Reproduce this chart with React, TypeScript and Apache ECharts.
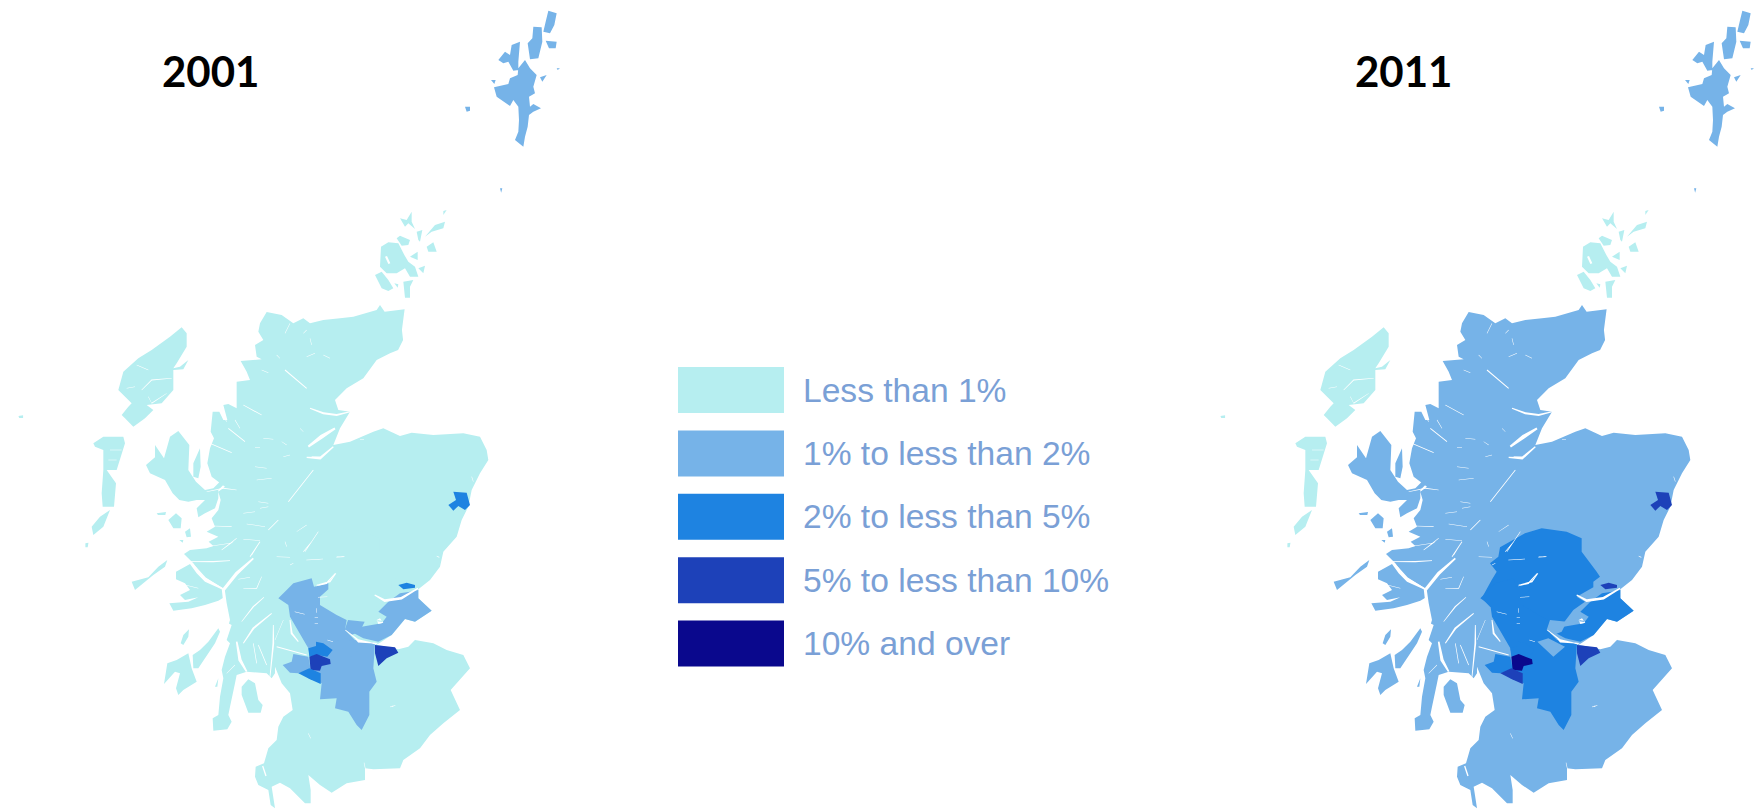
import React, { useEffect, useRef } from "react";
import * as echarts from "echarts";

// ---------- data ----------
const bandLabels = ["Less than 1%", "1% to less than 2%", "2% to less than 5%", "5% to less than 10%", "10% and over"];
const bandMins = [0, 1, 2, 5, 10];
const bandMaxs = [1, 2, 5, 10, 100];
const bandColors = ["#b6eef0", "#76b3e8", "#1e83e1", "#1d41b9", "#0a088d"];
const years = ["2001", "2011"];
const regionNames = ["Mainland (rest)", "Western Isles", "Orkney Islands", "Shetland Islands", "Perth and Kinross", "Central Belt", "Fife", "Falkirk and Clackmannanshire", "Renfrewshire", "East Dunbartonshire", "Glasgow City", "East Renfrewshire", "City of Edinburgh", "Dundee City", "Aberdeen City"];
const values2001 = [0.5, 0.4, 0.4, 1.2, 0.8, 1.4, 1.2, 1.2, 1.5, 2.5, 5.5, 2.6, 5.2, 2.6, 3.0];
const values2011 = [1.4, 0.6, 0.8, 1.3, 2.2, 2.6, 2.4, 1.8, 2.5, 2.8, 12.0, 5.4, 8.0, 5.5, 8.2];

// ---------- geometry: traced outlines, each in its own crop frame ----------
type P = [number, number];
const frame = (ox: number, oy: number, sx = 3, sy = 3) => (r: P[]): P[] => r.map(([x, y]) => [ox + x / sx, oy + y / sy]);
const Z = frame(0, 400, 2.6, 3);
const A = frame(90, 300);
const B = frame(90, 540);
const C = frame(240, 640);
const D = frame(320, 420);
const E = frame(248, 510);
const S = frame(455, 0);
const O = frame(365, 205);

const mainland: P[] = [
  ...A([[530,36],[575,45],[610,70],[640,55],[660,70],[700,60],[750,55],[790,50],[860,30],[870,15]]),
  ...Z([[1000,-265],[1052,-272],[1045,-210],[1048,-180],[1035,-150]]),
  ...A([[900,160],[860,180],[820,235],[770,265],[735,300],[745,330],[780,335],[750,385],[730,435],[780,425],[850,395],[880,385]]),
  ...D([[240,48],[275,38],[340,45],[430,40],[480,50],[500,90],[505,120],[480,160],[455,210],[445,260],[425,300],[410,350],[370,395],[360,440],[330,480],[295,508],[295,535],[335,572],[285,605],[255,597],[215,645],[180,668],[170,674],[235,688],[265,680],[290,655]]),
  ...C([[525,0],[580,10],[620,30],[670,45],[690,85],[632,150],[660,210],[610,250],[570,285],[540,325],[490,360],[480,385],[400,388],[375,385],[375,420],[320,430],[275,458],[240,435],[205,405],[212,450],[212,490],[195,490],[150,445],[120,428],[95,440],[105,505],[92,495],[85,450],[55,435],[45,410],[47,380],[72,370],[85,325],[110,300],[115,260],[130,230],[158,210],[150,160],[125,130],[105,80],[105,35]]),
  ...B([[555,400],[545,415],[530,400],[470,395],[440,405],[435,430],[420,500],[415,525],[425,545],[412,568],[370,572],[368,535],[385,525],[390,470],[400,415],[395,390],[405,350],[420,310],[410,300],[425,255],[415,250],[405,170],[400,145],[340,110],[310,70],[282,42],[300,30],[350,25],[370,18],[356,5]]),
  ...A([[385,710],[350,695],[375,680],[365,655],[385,630],[392,600],[385,575],[405,560],[365,530],[352,490],[360,445],[372,415],[362,395],[368,335],[388,335],[400,360],[412,360],[400,315],[415,312],[440,325],[440,290],[440,245],[480,240],[470,215],[452,183],[515,178],[500,170],[495,135],[520,120],[505,95],[510,70]]),
];
const skye = A([[168,495],[195,472],[195,435],[222,475],[240,410],[265,393],[298,435],[295,510],[318,545],[345,570],[370,565],[400,535],[438,505],[420,535],[385,570],[385,595],[375,625],[345,640],[325,652],[320,625],[345,600],[320,600],[295,605],[268,600],[248,580],[225,540],[180,520]]);
const skyeFinger = A([[310,490],[330,445],[332,500],[325,535],[310,530]]);
const rum = A([[235,660],[258,640],[275,655],[272,685],[250,685]]);
const eigg = A([[285,695],[300,685],[303,710],[290,712]]);
const canna = A([[200,640],[228,636],[226,645],[204,645]]);
const muck = A([[268,720],[280,720],[278,728]]);
const mull = B([[258,95],[300,72],[320,100],[345,125],[395,148],[405,170],[385,182],[345,195],[305,205],[250,212],[238,190],[295,185],[325,172],[285,180],[270,165],[300,150],[285,130],[258,118]]);
const tiree = B([[125,125],[175,112],[205,80],[232,60],[225,80],[190,105],[135,150]]);
const colonsay = B([[272,310],[280,285],[297,268],[295,290],[280,315]]);
const jura = B([[308,345],[330,330],[355,305],[385,265],[390,275],[375,310],[345,355],[325,385],[310,385]]);
const islay = B([[222,432],[232,370],[260,360],[295,340],[305,385],[320,425],[280,450],[265,465],[258,445],[270,400],[255,395]]);
const arran = C([[5,140],[25,118],[45,130],[55,180],[68,195],[62,218],[25,218],[5,165]]);
const gigha = B([[375,440],[385,415],[382,440]]);
const lewis = A([[275,82],[290,100],[290,140],[260,190],[250,205],[270,200],[295,180],[280,208],[250,210],[250,270],[215,310],[170,315],[190,330],[165,355],[130,380],[105,355],[95,345],[115,320],[125,310],[85,270],[100,215],[145,175],[185,150],[240,110]]);
const uist = A([[10,430],[40,410],[100,410],[105,430],[80,510],[50,510],[78,550],[72,620],[38,620],[35,580],[40,510],[40,450],[15,440]]);
const barra = A([[5,680],[30,650],[60,630],[40,680],[10,705]]);
const mingulay = Z([[222,430],[230,428],[228,442],[222,442]]);
const stKilda = Z([[48,48],[60,46],[60,54],[50,54]]);
const orkneyParts: P[][] = [
  [[48,125],[70,112],[100,115],[118,150],[130,170],[150,185],[160,215],[135,215],[120,190],[95,205],[65,205],[45,185]],
  [[30,210],[50,200],[70,225],[85,250],[70,258],[50,250]],
  [[95,100],[105,92],[135,105],[130,120],[110,122]],
  [[105,40],[125,45],[140,20],[140,50],[150,72],[130,55],[120,65]],
  [[235,18],[245,15],[235,30]],
  [[180,95],[210,60],[240,50],[235,70],[200,80]],
  [[155,80],[172,75],[165,110],[160,105]],
  [[185,125],[205,112],[215,140],[190,140]],
  [[135,155],[158,140],[158,165]],
  [[160,190],[180,182],[175,205]],
  [[115,230],[145,225],[135,245],[135,278],[120,278]],
  [[88,235],[100,238],[98,248]],
].map((r) => O(r as P[]));
const shetlandParts: P[][] = [
  [[117,262],[160,252],[165,235],[188,225],[190,205],[210,180],[225,205],[245,225],[235,260],[240,280],[222,290],[225,320],[235,312],[258,325],[235,335],[222,345],[218,380],[210,410],[205,440],[180,420],[190,395],[192,360],[190,320],[175,300],[165,318],[125,290]],
  [[130,180],[150,155],[165,165],[170,135],[195,125],[190,185],[190,210],[175,212],[160,185],[145,190]],
  [[235,80],[260,82],[262,125],[250,175],[225,178],[218,130],[232,115]],
  [[280,32],[305,40],[298,75],[285,100],[265,95],[272,65]],
  [[272,122],[305,125],[302,145],[282,145]],
  [[255,232],[275,225],[262,245]],
  [[108,240],[122,240],[118,252]],
  [[30,320],[45,320],[45,332],[35,335]],
  [[305,205],[315,205],[308,210]],
].map((r) => S(r as P[]));
const fairIsle = Z([[1300,-635],[1306,-635],[1303,-622]]);
const perth = E([[150,112],[225,70],[275,55],[350,65],[395,85],[395,125],[440,185],[450,200],[430,215],[430,232],[380,260],[405,275],[370,300],[340,340],[300,370],[250,350],[200,300],[150,300],[120,290],[95,265],[125,210],[140,185],[120,160],[145,140]]);
const centralBelt: P[] = [
  ...B([[565,175],[590,150],[610,130],[665,115],[672,140],[715,130],[715,148],[690,170],[690,195],[740,225],[770,240],[765,270],[795,300]]),
  ...C([[405,10],[400,85],[410,125],[388,155],[388,225],[365,270],[350,255],[325,215],[285,205],[290,175],[240,178],[245,130],[205,115]]),
  ...B([[660,350],[655,325],[600,230],[595,195]]),
];
const fife = D([[295,510],[295,535],[335,572],[285,605],[255,597],[215,645],[175,665],[130,655],[102,640],[125,620],[185,610],[200,590],[175,575],[205,545],[240,520],[270,515]]);
const clacks = E([[290,360],[300,330],[350,335],[335,365],[310,375]]);
const falkirk = E([[262,395],[295,385],[345,410],[310,440]]);
const renfrew = C([[160,42],[205,50],[212,90],[175,100],[150,98],[128,75],[155,65]]);
const eDunb = C([[205,25],[228,18],[228,5],[250,10],[278,30],[262,50],[232,45],[208,50]]);
const glasgow = C([[208,50],[230,42],[270,58],[272,72],[245,78],[240,92],[212,90]]);
const eRenf = C([[175,100],[208,85],[242,100],[242,132],[210,118]]);
const edinburgh = C([[405,15],[465,22],[475,38],[440,55],[415,78],[405,40]]);
const dundee = D([[235,495],[260,488],[285,495],[285,503],[250,508]]);
const aberdeen = D([[400,215],[440,218],[450,255],[435,270],[415,258],[400,272],[385,255],[408,240]]);

const waterA: [number, P[]][] = [
  [6,[[585,210],[650,265]]],[3,[[560,165],[570,175]]],[3,[[515,210],[535,218]]],[5,[[460,315],[515,345]]],[4,[[395,340],[410,365]]],
  [5,[[415,385],[465,425]]],[3,[[435,360],[450,385]]],[3,[[520,415],[550,418]]],[3,[[495,443],[510,443]]],[3,[[575,425],[590,435]]],
  [3,[[580,470],[600,465]]],[3,[[495,500],[530,505]]],[3,[[500,540],[545,535]]],[3,[[505,605],[535,610]]],[3,[[510,625],[535,620]]],
  [3,[[460,640],[495,635]]],[4,[[370,678],[425,680]]],[3,[[470,672],[525,680]]],[5,[[535,690],[565,660]]],[4,[[395,750],[440,715]]],
  [3,[[460,718],[510,722]]],[5,[[480,770],[510,725]]],[3,[[585,725],[590,740]]],[3,[[620,695],[650,675]]],[4,[[645,755],[685,695]]],
  [5,[[595,605],[670,510]]],[3,[[665,470],[695,470]]],[12,[[655,440],[695,410],[735,385]]],[8,[[650,472],[690,475],[730,440]]],
  [6,[[660,325],[700,340],[740,345],[780,335]]],[3,[[600,70],[585,100]]],[3,[[650,90],[640,100]]],[3,[[660,115],[665,135]]],
  [3,[[650,170],[675,160]]],[3,[[700,165],[720,175]]],[3,[[630,385],[640,395]]],[4,[[360,430],[425,458]]],[3,[[440,570],[400,565],[350,575]]],
  [3,[[155,270],[185,240],[245,235]]],[3,[[175,290],[185,310],[230,280]]],[3,[[110,265],[135,260]]],[4,[[140,195],[175,210]]],[2,[[60,450],[95,450]]],[2,[[55,480],[80,480]]],
];
const waterB: [number, P[]][] = [
  [7,[[315,80],[345,115],[400,148]]],[4,[[300,65],[370,65],[420,62]]],[10,[[490,55],[440,100],[400,150],[405,190],[415,240],[400,290],[405,340]]],
  [3,[[445,118],[480,112]]],[3,[[460,145],[500,145],[515,110]]],[3,[[350,20],[420,10]]],[3,[[395,30],[430,5]]],[4,[[485,45],[510,5]]],
  [3,[[560,50],[600,52]]],[3,[[600,75],[610,70]]],[3,[[650,60],[695,58]]],[4,[[640,35],[665,5]]],[3,[[740,50],[760,50]]],
  [4,[[455,245],[490,200],[522,172]]],[6,[[460,310],[490,265],[545,220]]],[10,[[440,305],[450,360],[470,395]]],[4,[[490,310],[500,370]]],[4,[[505,315],[530,375]]],
  [5,[[550,255],[550,310],[540,410]]],[6,[[560,320],[650,345]]],[3,[[580,240],[555,300]]],[6,[[600,240],[605,280],[625,305]]],[4,[[680,135],[720,125],[738,100]]],
  [3,[[410,400],[435,375]]],[3,[[880,180],[900,178]]],[3,[[265,130],[325,145]]],[3,[[280,250],[300,245]]],
];
const waterC: [number, P[]][] = [
  [8,[[68,378],[78,408]]],[3,[[372,368],[376,386]]],[3,[[205,280],[212,295]]],[3,[[450,201],[460,197]]],
];
const waterD: [number, P[]][] = [
  [3,[[50,412],[72,410]]],[3,[[455,170],[460,185]]],[5,[[100,648],[115,665],[172,670]]],[4,[[350,408],[358,412]]],[3,[[120,58],[132,58]]],
];
const waterE: [number, P[]][] = [
  [4,[[175,150],[225,147]]],[3,[[265,142],[290,140]]],[4,[[205,228],[235,220],[262,190]]],[3,[[210,262],[238,260]]],[3,[[140,305],[170,313]]],
  [3,[[205,295],[205,308]]],[3,[[200,323],[210,323]]],[3,[[200,340],[210,340]]],[8,[[380,255],[410,272],[460,265],[510,235]]],[8,[[388,332],[402,334]]],
  [5,[[292,360],[330,390],[385,402]]],[3,[[238,390],[255,395]]],[3,[[432,590],[442,586]]],
];
const fifeLoch = D([[170,600],[180,595],[190,608],[175,612]]);
const orkneyLoch = O([[60,155],[66,153],[76,175],[70,177]]);

function sliver(width: number, pts: P[]): P[] {
  const left: P[] = [];
  const right: P[] = [];
  pts.forEach((p, i) => {
    const a = pts[Math.max(0, i - 1)];
    const b = pts[Math.min(pts.length - 1, i + 1)];
    const dx = b[0] - a[0];
    const dy = b[1] - a[1];
    const len = Math.hypot(dx, dy) || 1;
    const w = i === 0 || i === pts.length - 1 ? width * 0.25 : width / 2;
    left.push([p[0] - (dy / len) * w, p[1] + (dx / len) * w]);
    right.unshift([p[0] + (dy / len) * w, p[1] - (dx / len) * w]);
  });
  return left.concat(right);
}
const closed = (r: P[]) => [...r, r[0]];
function feature(name: string, rings: P[][]) {
  return { type: "Feature", properties: { name }, geometry: { type: "MultiPolygon", coordinates: rings.map((r) => [closed(r)]) } };
}
const waterRings: P[][] = [
  ...waterA.map(([w, p]) => sliver(w / 3, A(p))),
  ...waterB.map(([w, p]) => sliver(w / 3, B(p))),
  ...waterC.map(([w, p]) => sliver(w / 3, C(p))),
  ...waterD.map(([w, p]) => sliver(w / 3, D(p))),
  ...waterE.map(([w, p]) => sliver(w / 3, E(p))),
  fifeLoch,
  orkneyLoch,
];
// the northern isles sit a little further left on the 2011 panel
const buildMap = (shetlandShift: number) => ({
  type: "FeatureCollection",
  features: [
    feature(regionNames[0], [mainland, skye, skyeFinger, mull, tiree, colonsay, islay, jura, arran, gigha, rum, eigg, canna, muck]),
    feature(regionNames[1], [lewis, uist, barra, mingulay, stKilda]),
    feature(regionNames[2], orkneyParts),
    feature(regionNames[3], [...shetlandParts, fairIsle].map((r) => r.map(([x, y]) => [x + shetlandShift, y] as P))),
    feature(regionNames[4], [perth]),
    feature(regionNames[5], [centralBelt]),
    feature(regionNames[6], [fife]),
    feature(regionNames[7], [clacks, falkirk]),
    feature(regionNames[8], [renfrew]),
    feature(regionNames[9], [eDunb]),
    feature(regionNames[10], [glasgow]),
    feature(regionNames[11], [eRenf]),
    feature(regionNames[12], [edinburgh]),
    feature(regionNames[13], [dundee]),
    feature(regionNames[14], [aberdeen]),
    feature("Water", waterRings),
  ],
});

const mapSeries = (mapName: string, values: number[], left: number) => ({
  type: "map",
  map: mapName,
  silent: true,
  roam: false,
  selectedMode: false,
  projection: { project: (p: number[]) => p, unproject: (p: number[]) => p },
  boundingCoords: [[0, 0], [600, 809]],
  left,
  top: 0,
  width: 600,
  height: 809,
  label: { show: false },
  itemStyle: { areaColor: "#ffffff", borderWidth: 0, borderColor: "transparent" },
  data: regionNames.map((name, i) => ({ name, value: values[i] })),
});

export default function App() {
  const ref = useRef<HTMLDivElement>(null);
  useEffect(() => {
    echarts.registerMap("scotland2001", buildMap(0) as any);
    echarts.registerMap("scotland2011", buildMap(-8) as any);
    const chart = echarts.init(ref.current!, undefined, { renderer: "svg" });
    chart.setOption({
      animation: false,
      backgroundColor: "#ffffff",
      title: [
        { text: years[0], left: 157, top: 45, textStyle: { fontFamily: "Lato", fontWeight: "bold", fontSize: 42, color: "#000" } },
        { text: years[1], left: 1350, top: 45, textStyle: { fontFamily: "Lato", fontWeight: "bold", fontSize: 42, color: "#000" } },
      ],
      visualMap: {
        type: "piecewise",
        seriesIndex: [0, 1],
        left: 678,
        top: 367,
        padding: 0,
        orient: "vertical",
        inverse: true,
        align: "left",
        itemWidth: 106,
        itemHeight: 46,
        itemGap: 17.4,
        textGap: 19,
        itemSymbol: "rect",
        selectedMode: false,
        hoverLink: false,
        showLabel: true,
        outOfRange: { color: "#ffffff" },
        textStyle: { fontFamily: "Liberation Sans", fontSize: 33.6, color: "#7aa0d6" },
        pieces: bandLabels.map((label, i) => ({ min: bandMins[i], max: bandMaxs[i], label, color: bandColors[i] })),
      },
      series: [mapSeries("scotland2001", values2001, 0), mapSeries("scotland2011", values2011, 1202)],
    });
    return () => chart.dispose();
  }, []);
  return <div ref={ref} style={{ position: "absolute", left: 0, top: 0, width: 1760, height: 809 }} />;
}
